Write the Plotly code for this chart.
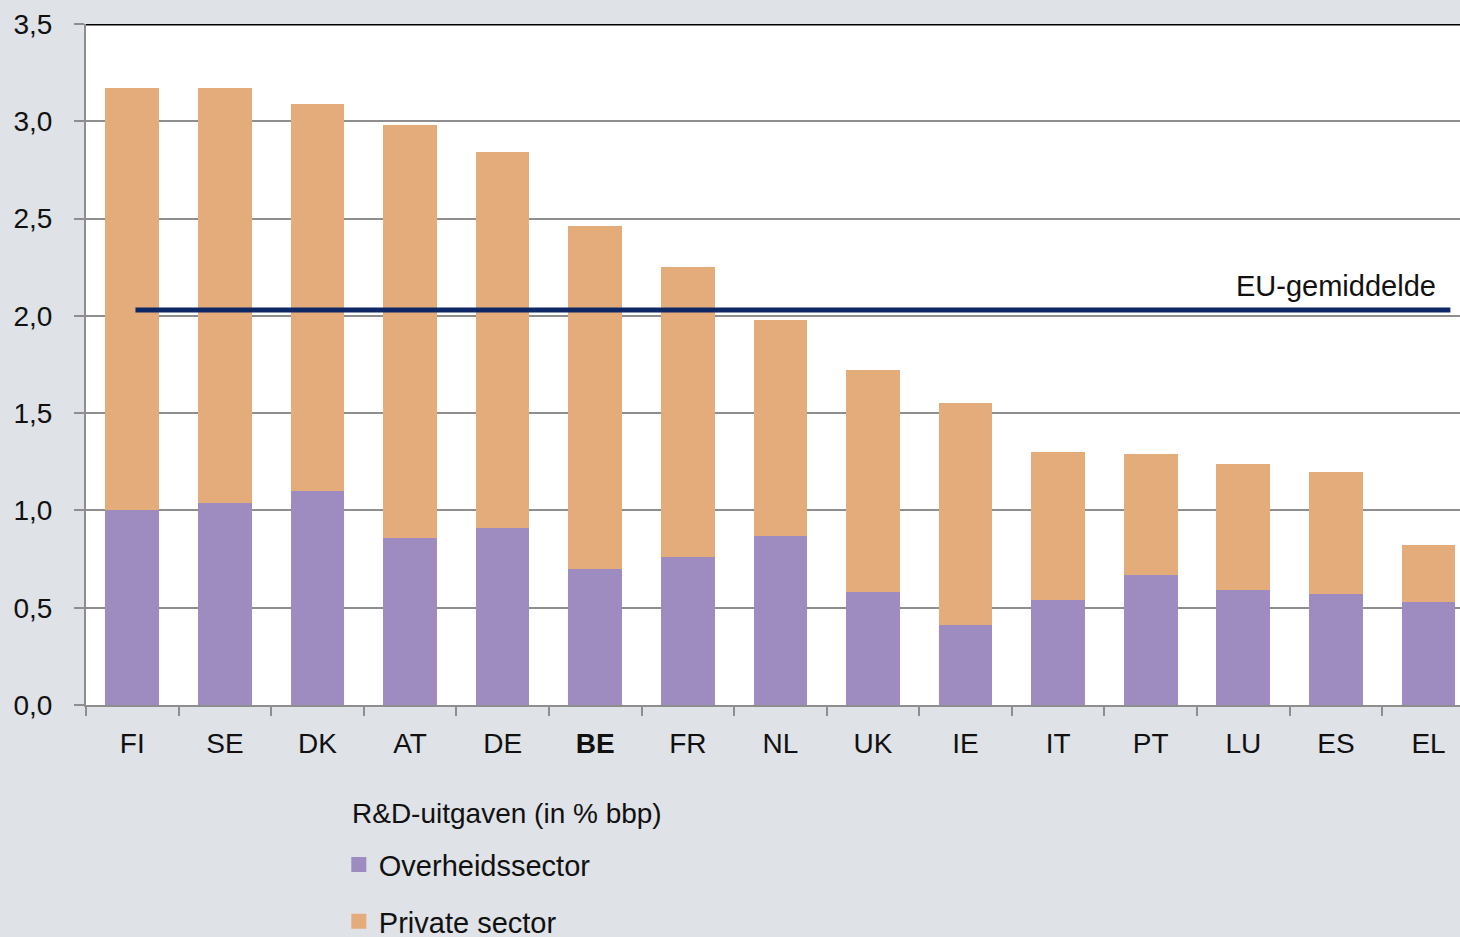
import plotly.graph_objects as go

# R&D expenditure (% of GDP) per country
countries = ["FI", "SE", "DK", "AT", "DE", "BE", "FR", "NL", "UK", "IE", "IT", "PT", "LU", "ES", "EL"]
tick_labels = ["FI", "SE", "DK", "AT", "DE", "<b>BE</b>", "FR", "NL", "UK", "IE", "IT", "PT", "LU", "ES", "EL"]
totals = [3.17, 3.17, 3.09, 2.98, 2.84, 2.46, 2.25, 1.98, 1.72, 1.55, 1.30, 1.29, 1.24, 1.20, 0.82]
government = [1.00, 1.04, 1.10, 0.86, 0.91, 0.70, 0.76, 0.87, 0.58, 0.41, 0.54, 0.67, 0.59, 0.57, 0.53]
private = [round(t - g, 2) for t, g in zip(totals, government)]
eu_average = 2.03

FONT = "Liberation Sans, Arial, sans-serif"
GRID = "#8e8e8e"
PURPLE = "#9e8bbf"
ORANGE = "#e4ac7b"

fig = go.Figure()
fig.add_trace(go.Bar(x=countries, y=government, name="Overheidssector",
                     marker=dict(color=PURPLE, line=dict(width=0)), showlegend=False))
fig.add_trace(go.Bar(x=countries, y=private, name="Private sector",
                     marker=dict(color=ORANGE, line=dict(width=0)), showlegend=False))

# legend entries with bigger square swatches
for name, col, grp in [("Overheidssector", PURPLE, "g1"), ("Private sector", ORANGE, "g2")]:
    fig.add_trace(go.Scatter(x=[None], y=[None], mode="markers", name=name, legendgroup=grp,
                             marker=dict(symbol="square", size=15, color=col)))

# EU average line and its label
fig.add_shape(type="line", xref="x domain", yref="y", x0=0.036, x1=0.993,
              y0=eu_average, y1=eu_average, line=dict(color="#0d2865", width=5), layer="above")
fig.add_annotation(xref="x domain", yref="y", x=0.984, y=eu_average, yshift=24,
                   text="EU-gemiddelde", showarrow=False, xanchor="right",
                   font=dict(size=29, color="#111111", family=FONT))
# black top border
fig.add_shape(type="line", xref="x domain", yref="y", x0=0, x1=1, y0=3.5, y1=3.5,
              line=dict(color="#000000", width=3), layer="above")

# legend title as free text
fig.add_annotation(xref="paper", yref="paper", x=0.192, y=-0.1586, xanchor="left", yanchor="middle",
                   text="R&D-uitgaven (in % bbp)", showarrow=False,
                   font=dict(size=28, color="#111111", family=FONT))

fig.update_layout(
    barmode="stack",
    bargap=0.42,
    width=1460, height=937,
    margin=dict(l=86, r=0, t=24, b=232, autoexpand=False),
    paper_bgcolor="#dfe2e7",
    plot_bgcolor="#ffffff",
    separators=",.",
    font=dict(family=FONT, size=28, color="#111111"),
    legend=dict(
        orientation="v", traceorder="grouped", tracegroupgap=16,
        x=0.184, xanchor="left", y=-0.197, yanchor="top",
        bgcolor="rgba(0,0,0,0)", font=dict(size=29),
        itemclick=False, itemsizing="trace",
    ),
    showlegend=True,
)
fig.update_xaxes(
    tickmode="array", tickvals=countries, ticktext=tick_labels,
    range=[-0.5, 14.34], showgrid=False,
    showline=True, linecolor=GRID, linewidth=2,
    ticks="outside", tickson="boundaries", ticklen=9, tickcolor=GRID, tickwidth=2,
    ticklabelstandoff=12, tickfont=dict(size=28),
)
fig.update_yaxes(
    range=[0, 3.5], dtick=0.5, tickformat=".1f",
    showgrid=True, gridcolor=GRID, gridwidth=1.5,
    showline=True, linecolor=GRID, linewidth=2,
    ticks="outside", ticklen=10, tickcolor=GRID, tickwidth=2,
    ticklabelstandoff=16, tickfont=dict(size=28), zeroline=False,
)

fig.write_html("out.html", config={"displayModeBar": False},
               post_script="document.body.style.margin='0';")
